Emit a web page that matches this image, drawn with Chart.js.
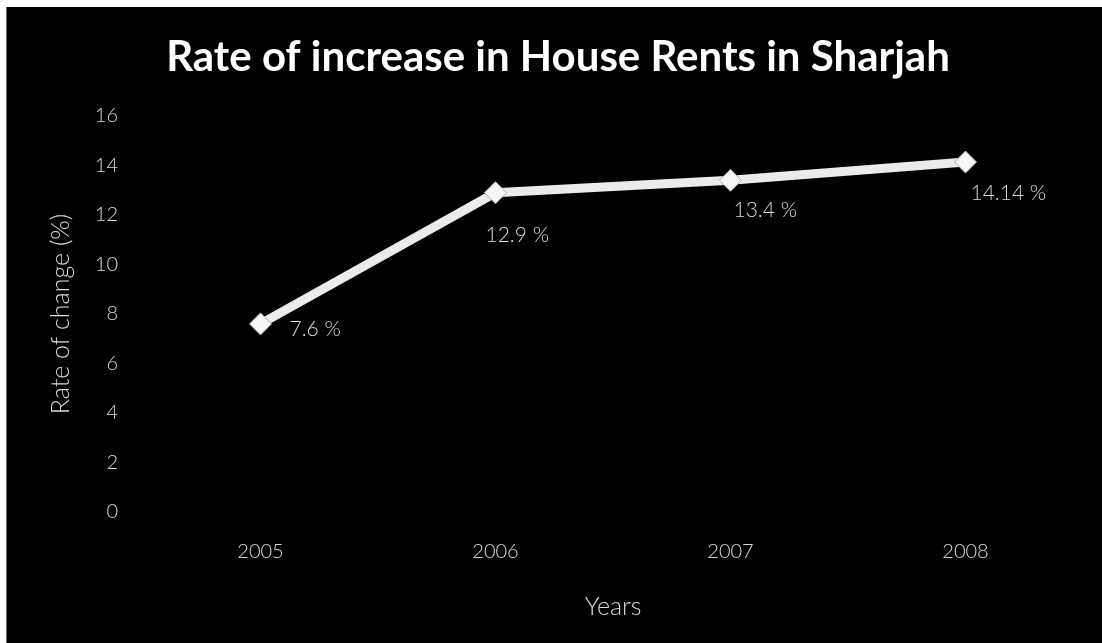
<!DOCTYPE html>
<html>
<head>
<meta charset="utf-8">
<title>Rate of increase in House Rents in Sharjah</title>
<script src="https://cdn.jsdelivr.net/npm/chart.js@4/dist/chart.umd.min.js"></script>
<style>
  html, body { margin: 0; padding: 0; background: #ffffff; }
  body { width: 1102px; height: 643px; overflow: hidden; position: relative; }
  #frame { position: absolute; left: 6px; top: 7px; width: 1096px; height: 636px; background: #000; border-left: 1px solid #777; box-sizing: border-box; }
  #chart { display: block; }
</style>
</head>
<body>
<div id="frame"><canvas id="chart" width="1095" height="636"></canvas></div>
<script>
// Yearly rent increase figures
const years = ['2005', '2006', '2007', '2008'];
const rentIncrease = [7.6, 12.9, 13.4, 14.14];
const valueLabels = ['7.6 %', '12.9 %', '13.4 %', '14.14 %'];
const yTicks = [0, 2, 4, 6, 8, 10, 12, 14, 16];

const FONT = 'Lato, "Open Sans", "DejaVu Sans", sans-serif';
const TEXT = '#d9d9d9';

// Writes the value next to each marker
const pointLabels = {
  id: 'pointLabels',
  afterDatasetsDraw(chart, args, opts) {
    const ctx = chart.ctx;
    const meta = chart.getDatasetMeta(0);
    ctx.save();
    ctx.font = '300 21px ' + FONT;
    ctx.fillStyle = TEXT;
    ctx.textAlign = 'left';
    ctx.textBaseline = 'middle';
    meta.data.forEach((pt, i) => {
      const off = opts.offsets[i];
      ctx.fillText(opts.labels[i], pt.x + off[0], pt.y + off[1]);
    });
    ctx.restore();
  }
};

new Chart(document.getElementById('chart'), {
  type: 'line',
  data: {
    labels: years,
    datasets: [{
      data: rentIncrease,
      borderColor: '#ebebeb',
      borderWidth: 9,
      tension: 0,
      pointStyle: 'rectRot',
      pointRadius: 11,
      pointBackgroundColor: '#f6f6f6',
      pointBorderColor: '#b0b0b0',
      pointBorderWidth: 1
    }]
  },
  options: {
    responsive: false,
    animation: false,
    events: [],
    layout: { padding: { left: 26, right: 19, top: 0, bottom: 0 } },
    plugins: {
      legend: { display: false },
      tooltip: { enabled: false },
      title: {
        display: true,
        text: 'Rate of increase in House Rents in Sharjah',
        color: '#ffffff',
        font: { family: FONT, size: 42, weight: 'bold' },
        padding: { top: 25, bottom: 33.6 }
      },
      pointLabels: {
        labels: valueLabels,
        offsets: [[29, 5], [-10, 43], [3, 30], [5, 31]]
      }
    },
    scales: {
      x: {
        grid: { display: false, drawTicks: false },
        border: { display: false },
        offset: true,
        ticks: { color: TEXT, font: { family: FONT, size: 20, weight: '300' }, padding: 28 },
        title: {
          display: true,
          text: 'Years',
          color: TEXT,
          font: { family: FONT, size: 25, weight: '300' },
          padding: { top: 0, bottom: 21 }
        },
        afterFit(scale) { scale.height = 131; }
      },
      y: {
        min: 0,
        max: 16,
        afterBuildTicks(scale) { scale.ticks = yTicks.map(v => ({ value: v })); },
        grid: { display: false, drawTicks: false },
        border: { display: false },
        ticks: { color: TEXT, font: { family: FONT, size: 20, weight: '300' }, padding: 25 },
        title: {
          display: true,
          text: 'Rate of change (%)',
          color: TEXT,
          font: { family: FONT, size: 25, weight: '300' },
          padding: { top: 13, bottom: 0 }
        },
        afterFit(scale) { scale.width = 110; }
      }
    }
  },
  plugins: [pointLabels]
});
</script>
</body>
</html>
